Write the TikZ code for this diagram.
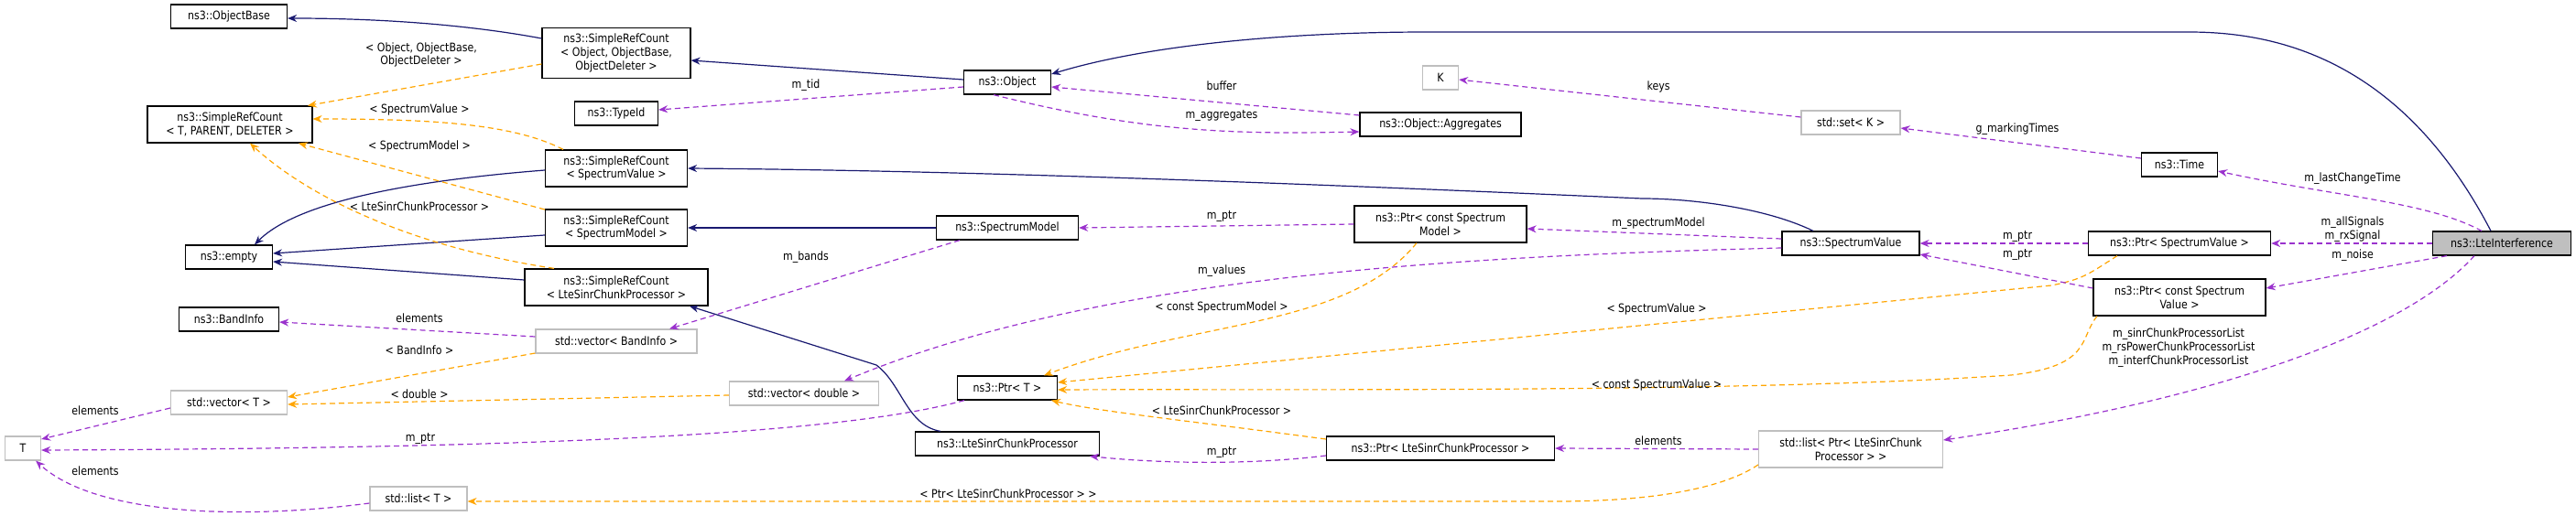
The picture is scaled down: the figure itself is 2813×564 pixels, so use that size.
\documentclass[tikz,border=0pt]{standalone}
\usepackage{fontspec}
\setmainfont{DejaVu Sans}[FakeStretch=0.86]
\usetikzlibrary{arrows.meta}
\definecolor{navy}{HTML}{191970}
\definecolor{pur}{HTML}{9A32CD}
\definecolor{org}{HTML}{FFA500}
\definecolor{gbd}{HTML}{BFBFBF}
\begin{document}
\begin{tikzpicture}[x=1pt,y=-1pt,
  every node/.style={font=\fontsize{12.8}{14.8}\selectfont, inner sep=0pt, align=center},
  bx/.style={draw=black, line width=1.2pt, fill=white},
  gx/.style={draw=gbd, line width=1.2pt, fill=white},
  tip/.style={-{Stealth[length=10pt,width=8pt]}},
  inh/.style={tip, draw=navy, line width=1.2pt},
  tpl/.style={tip, draw=org, line width=1.2pt, dash pattern=on 6pt off 4pt},
  mem/.style={tip, draw=pur, line width=1.2pt, dash pattern=on 6pt off 4pt},
  lb/.style={font=\fontsize{12.8}{14.8}\selectfont}]
\useasboundingbox (0,0) rectangle (2813,564);
\newcommand\bx[6]{\node[#1, minimum width=#4pt, minimum height=#5pt] (#2) at #3 {#6};}
\bx{bx}{objbase}{(250,18)}{127}{26}{ns3::ObjectBase}
\bx{bx}{srcobj}{(673,58)}{162}{55}{ns3::SimpleRefCount\\< Object, ObjectBase,\\ObjectDeleter >}
\bx{bx}{srct}{(251,136)}{180}{40}{ns3::SimpleRefCount\\< T, PARENT, DELETER >}
\bx{bx}{typeid}{(673,124)}{91}{26}{ns3::TypeId}
\bx{bx}{srcsv}{(673,184)}{155}{40}{ns3::SimpleRefCount\\< SpectrumValue >}
\bx{bx}{srcsm}{(673,249)}{155}{40}{ns3::SimpleRefCount\\< SpectrumModel >}
\bx{bx}{empty}{(250,281)}{95}{26}{ns3::empty}
\bx{bx}{srclte}{(673,314)}{200}{40}{ns3::SimpleRefCount\\< LteSinrChunkProcessor >}
\bx{bx}{bi}{(250,349)}{109}{26}{ns3::BandInfo}
\bx{gx}{vbi}{(673,373)}{176}{26}{std::vector< BandInfo >}
\bx{gx}{vt}{(250,440)}{127}{26}{std::vector< T >}
\bx{gx}{vdbl}{(878,430)}{163}{26}{std::vector< double >}
\bx{gx}{T}{(25,490)}{39}{26}{T}
\bx{gx}{lt}{(457,545)}{106}{26}{std::list< T >}
\bx{bx}{obj}{(1100,90)}{95}{26}{ns3::Object}
\bx{gx}{k}{(1573,85)}{39}{26}{K}
\bx{bx}{agg}{(1573,136)}{176}{26}{ns3::Object::Aggregates}
\bx{bx}{spm}{(1100,249)}{155}{26}{ns3::SpectrumModel}
\bx{bx}{pcsm}{(1573,245)}{188}{40}{ns3::Ptr< const Spectrum\\Model >}
\bx{bx}{ptrt}{(1100,424)}{109}{26}{ns3::Ptr< T >}
\bx{bx}{lsp}{(1100,485)}{201}{26}{ns3::LteSinrChunkProcessor}
\bx{bx}{plsp}{(1573,490)}{249}{26}{ns3::Ptr< LteSinrChunkProcessor >}
\bx{gx}{setk}{(2021,134)}{108}{26}{std::set< K >}
\bx{bx}{time}{(2380,180)}{83}{26}{ns3::Time}
\bx{bx}{sv}{(2021,266)}{150}{26}{ns3::SpectrumValue}
\bx{bx}{psv}{(2380,266)}{199}{26}{ns3::Ptr< SpectrumValue >}
\bx{bx}{pcsv}{(2380,325)}{188}{40}{ns3::Ptr< const Spectrum\\Value >}
\node[draw=black, line width=1.2pt, fill=gbd, minimum width=151pt, minimum height=26pt] (lte) at (2732,266) {ns3::LteInterference};
\bx{gx}{lptr}{(2021,491)}{201}{40}{std::list< Ptr< LteSinrChunk\\Processor > >}
\coordinate (c1) at (2390,35);
\coordinate (c2) at (1560,35);
\coordinate (c3) at (1793,217);
\coordinate (c4) at (957,399);
\coordinate (c5) at (2240,312);
\coordinate (c6) at (2196,410);
\coordinate (c7) at (1700,548);
% inheritance
\draw[inh] ([yshift=16pt]srcobj.west) .. controls (500,25) and (400,20) .. ([yshift=-2pt]objbase.east);
\draw[inh] ([yshift=3pt]obj.west) -- ([yshift=-8pt]srcobj.east);
\draw[inh] ([xshift=-12pt]lte.north) .. controls (2620,60) and (2480,35) .. (c1) -- (c2) .. controls (1400,35) and (1250,50) .. ([yshift=9pt]obj.east);
\draw[inh] ([xshift=-41pt]sv.north) .. controls (1930,228) and (1850,217) .. (c3) .. controls (1300,195) and (1000,186) .. ([yshift=0pt]srcsv.east);
\draw[inh] (spm.west) -- (srcsm.east);
\draw[inh] ([yshift=-2pt]srcsv.west) .. controls (480,195) and (330,215) .. ([xshift=28pt]empty.north);
\draw[inh] ([yshift=-8pt]srcsm.west) -- ([yshift=4pt]empty.east);
\draw[inh] ([yshift=8pt]srclte.west) -- ([yshift=-5pt]empty.east);
\draw[inh] ([xshift=-73pt]lsp.north) .. controls (990,465) and (985,420) .. (c4) -- ([xshift=80pt]srclte.south);
% templates
\draw[tpl] ([yshift=-12pt]srcobj.west) -- ([xshift=85pt]srct.north);
\draw[tpl] ([xshift=-58pt]srcsv.north) .. controls (560,135) and (470,130) .. ([yshift=6pt]srct.east);
\draw[tpl] ([yshift=20pt]srcsm.west) -- ([xshift=75pt]srct.south);
\draw[tpl] ([xshift=-68pt]srclte.north) .. controls (420,265) and (320,200) .. ([xshift=22pt]srct.south);
\draw[tpl] ([yshift=-13pt]vbi.west) -- ([yshift=6pt]vt.east);
\draw[tpl] ([yshift=-2pt]vdbl.west) -- ([yshift=-2pt]vt.east);
\draw[tpl] ([yshift=-17pt]lptr.west) .. controls (1880,535) and (1800,548) .. (c7) -- ([yshift=-3pt]lt.east);
\draw[tpl] ([xshift=-26pt]pcsm.south) .. controls (1470,360) and (1300,350) .. ([xshift=40pt]ptrt.north);
\draw[tpl] ([xshift=-68pt]psv.south) .. controls (2280,300) and (2275,305) .. (c5) -- ([yshift=6pt]ptrt.east);
\draw[tpl] ([xshift=-90pt]pcsv.south) .. controls (2270,370) and (2285,400) .. (c6) .. controls (1900,430) and (1400,425) .. ([yshift=-2pt]ptrt.east);
\draw[tpl] ([yshift=10pt]plsp.west) .. controls (1300,460) and (1200,450) .. ([xshift=48pt]ptrt.south);
% members
\draw[mem] ([yshift=-5pt]obj.west) -- ([yshift=4pt]typeid.east);
\draw[mem] ([yshift=10pt]agg.west) -- ([yshift=-5pt]obj.east);
\draw[mem] ([xshift=-15pt]obj.south) .. controls (1250,145) and (1350,147) .. ([yshift=-8pt]agg.west);
\draw[mem] ([yshift=6pt]setk.west) -- ([yshift=-2pt]k.east);
\draw[mem] ([yshift=7pt]time.west) -- ([yshift=-6pt]setk.east);
\draw[mem] ([xshift=-22pt]lte.north) .. controls (2650,220) and (2550,215) .. ([yshift=-7pt]time.east);
\draw[mem] (lte.west) -- (psv.east);
\draw[mem] ([xshift=-60pt]lte.south) -- ([yshift=10pt]pcsv.east);
\draw[mem] ([xshift=-30pt]lte.south) .. controls (2620,370) and (2400,440) .. ([yshift=10pt]lptr.east);
\draw[mem] (psv.west) -- (sv.east);
\draw[mem] ([yshift=10pt]pcsv.west) -- ([yshift=-12pt]sv.east);
\draw[mem] ([yshift=5pt]sv.west) -- ([yshift=-5pt]pcsm.east);
\draw[mem] ([yshift=-5pt]sv.west) .. controls (1600,280) and (1200,300) .. ([xshift=44pt]vdbl.north);
\draw[mem] (pcsm.west) -- (spm.east);
\draw[mem] ([xshift=-52pt]spm.south) -- ([xshift=58pt]vbi.north);
\draw[mem] ([yshift=5pt]vbi.west) -- ([yshift=-3pt]bi.east);
\draw[mem] ([yshift=-6pt]vt.west) -- ([yshift=10pt]T.east);
\draw[mem] ([xshift=-47pt]ptrt.south) .. controls (900,480) and (500,490) .. ([yshift=-2pt]T.east);
\draw[mem] ([yshift=-5pt]lt.west) .. controls (250,570) and (100,560) .. ([xshift=-6pt]T.south east);
\draw[mem] ([yshift=-8pt]plsp.west) .. controls (1350,510) and (1250,505) .. ([xshift=90pt]lsp.south);
\draw[mem] (lptr.west) -- (plsp.east);
% labels
\node[lb] (l1) at (460,60) {< Object, ObjectBase,\\ObjectDeleter >};
\node[lb] (l2) at (458,120) {< SpectrumValue >};
\node[lb] (l3) at (458,160) {< SpectrumModel >};
\node[lb] (l4) at (458,226) {< LteSinrChunkProcessor >};
\node[lb] (l5) at (458,383) {< BandInfo >};
\node[lb] (l6) at (458,431) {< double >};
\node[lb] (l7) at (1101,540) {< Ptr< LteSinrChunkProcessor > >};
\node[lb] (l8) at (1334,336) {< const SpectrumModel >};
\node[lb] (l9) at (1809,338) {< SpectrumValue >};
\node[lb] (l10) at (1809,421) {< const SpectrumValue >};
\node[lb] (l11) at (1334,449) {< LteSinrChunkProcessor >};
\node[lb] (m1) at (880,93) {m\_tid};
\node[lb] (m2) at (1334,94) {buffer};
\node[lb] (m3) at (1334,127) {m\_aggregates};
\node[lb] (m4) at (1811,95) {keys};
\node[lb] (m5) at (2203,141) {g\_markingTimes};
\node[lb] (m6) at (2569,195) {m\_lastChangeTime};
\node[lb] (m7) at (2569,251) {m\_allSignals\\m\_rxSignal};
\node[lb] (m8) at (2569,279) {m\_noise};
\node[lb] (m9) at (2379,380) {m\_sinrChunkProcessorList\\m\_rsPowerChunkProcessorList\\m\_interfChunkProcessorList};
\node[lb] (m10) at (2203,259) {m\_ptr};
\node[lb] (m11) at (2203,279) {m\_ptr};
\node[lb] (m12) at (1811,244) {m\_spectrumModel};
\node[lb] (m13) at (1334,296) {m\_values};
\node[lb] (m14) at (1334,237) {m\_ptr};
\node[lb] (m15) at (880,281) {m\_bands};
\node[lb] (m16) at (458,348) {elements};
\node[lb] (m17) at (104,449) {elements};
\node[lb] (m18) at (459,480) {m\_ptr};
\node[lb] (m19) at (104,515) {elements};
\node[lb] (m20) at (1334,495) {m\_ptr};
\node[lb] (m21) at (1811,482) {elements};
\end{tikzpicture}
\end{document}
